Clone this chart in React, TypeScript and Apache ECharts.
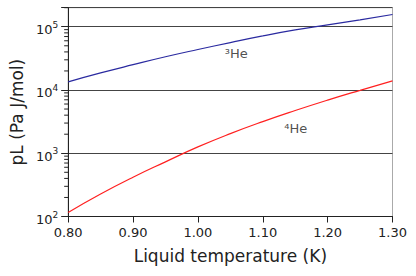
import React, { useEffect, useRef } from "react";
import * as echarts from "echarts";

const temperatures = [0.8, 0.85, 0.9, 0.95, 1.0, 1.05, 1.1, 1.15, 1.2, 1.25, 1.3];
const he3Values = [13460, 18620, 25120, 33500, 43650, 56230, 71610, 89130, 107150, 128800, 156300];
const he4Values = [116, 227, 418, 731, 1259, 2042, 3162, 4732, 6918, 9886, 13960];
const xTicks = [0.8, 0.9, 1.0, 1.1, 1.2, 1.3];
const yDecades = [100, 1000, 10000, 100000];
const minorMultipliers = [2, 3, 4, 5, 6, 7, 8, 9];
const he3Label = { text: "³He", x: 1.059, y: 38300 };
const he4Label = { text: "⁴He", x: 1.151, y: 2500 };

const FONT = "DejaVu Sans";
const TEXT = "#222";

export default function App() {
  const ref = useRef<HTMLDivElement>(null);
  useEffect(() => {
    if (!ref.current) return;
    const chart = echarts.init(ref.current, null, { renderer: "svg" });
    const yMin = 100;
    const yMax = 200000;
    chart.setOption({
      animation: false,
      backgroundColor: "#fff",
      textStyle: { fontFamily: FONT },
      grid: {
        left: 68,
        right: 23.5,
        top: 7.7,
        bottom: 59.5,
        show: true,
        borderColor: "#aaa",
        borderWidth: 1,
      },
      xAxis: {
        type: "value",
        min: xTicks[0],
        max: xTicks[xTicks.length - 1],
        interval: 0.1,
        name: "Liquid temperature (K)",
        nameLocation: "middle",
        nameGap: 31,
        nameTextStyle: { fontSize: 17, color: TEXT, fontFamily: FONT },
        axisLine: { show: true, onZero: false, lineStyle: { color: TEXT, width: 1 } },
        axisTick: { show: true, inside: false, length: 6, lineStyle: { color: TEXT } },
        axisLabel: {
          fontSize: 13,
          color: TEXT,
          fontFamily: FONT,
          margin: 9,
          formatter: (v: number) => v.toFixed(2),
        },
        splitLine: { show: false },
      },
      yAxis: {
        type: "log",
        logBase: 10,
        min: yMin,
        max: yMax,
        name: "pL (Pa J/mol)",
        nameLocation: "middle",
        nameGap: 41,
        nameTextStyle: { fontSize: 17, color: TEXT, fontFamily: FONT },
        axisLine: { show: true, onZero: false, lineStyle: { color: TEXT, width: 1 } },
        axisTick: { show: true, inside: false, length: 7, lineStyle: { color: TEXT } },
        axisLabel: {
          color: TEXT,
          fontFamily: FONT,
          margin: 10,
          formatter: (v: number) => {
            const e = Math.round(Math.log10(v));
            if (Math.abs(Math.pow(10, e) - v) > 1e-6 * v) return "";
            return `{b|10}{s|${e}}`;
          },
          rich: {
            b: { fontSize: 13, fontFamily: FONT, color: TEXT, padding: [6, 0, 0, 0] },
            s: { fontSize: 9, fontFamily: FONT, color: TEXT, padding: [0, 0, 4, 0] },
          },
        },
        splitLine: { show: true, lineStyle: { color: "#444", width: 1 } },
      },
      series: [
        {
          type: "line",
          name: "3He",
          data: temperatures.map((t, i) => [t, he3Values[i]]),
          smooth: true,
          showSymbol: false,
          lineStyle: { color: "#2a2aa0", width: 1.2 },
        },
        {
          type: "line",
          name: "4He",
          data: temperatures.map((t, i) => [t, he4Values[i]]),
          smooth: true,
          showSymbol: false,
          lineStyle: { color: "#ff2020", width: 1.2 },
        },
        {
          type: "scatter",
          silent: true,
          symbolSize: 0,
          data: [[he3Label.x, he3Label.y], [he4Label.x, he4Label.y]],
          label: {
            show: true,
            position: "inside",
            fontSize: 13,
            fontFamily: FONT,
            color: TEXT,
            formatter: (p: any) => (p.dataIndex === 0 ? he3Label.text : he4Label.text),
          },
        },
      ],
    });
    const minorLines: any[] = [];
    yDecades.forEach((d) => {
      minorMultipliers.forEach((k) => {
        const v = k * d;
        if (v > yMax) return;
        const p = chart.convertToPixel({ gridIndex: 0 }, [xTicks[0], v]) as number[];
        if (!p) return;
        minorLines.push({
          type: "line",
          silent: true,
          z: 10,
          shape: { x1: p[0] - 4, y1: p[1], x2: p[0], y2: p[1] },
          style: { stroke: TEXT, lineWidth: 1 },
        });
      });
    });
    chart.setOption({ graphic: minorLines });
    return () => chart.dispose();
  }, []);
  return <div ref={ref} style={{ width: 416, height: 276, position: "absolute", left: 0, top: 0 }} />;
}
